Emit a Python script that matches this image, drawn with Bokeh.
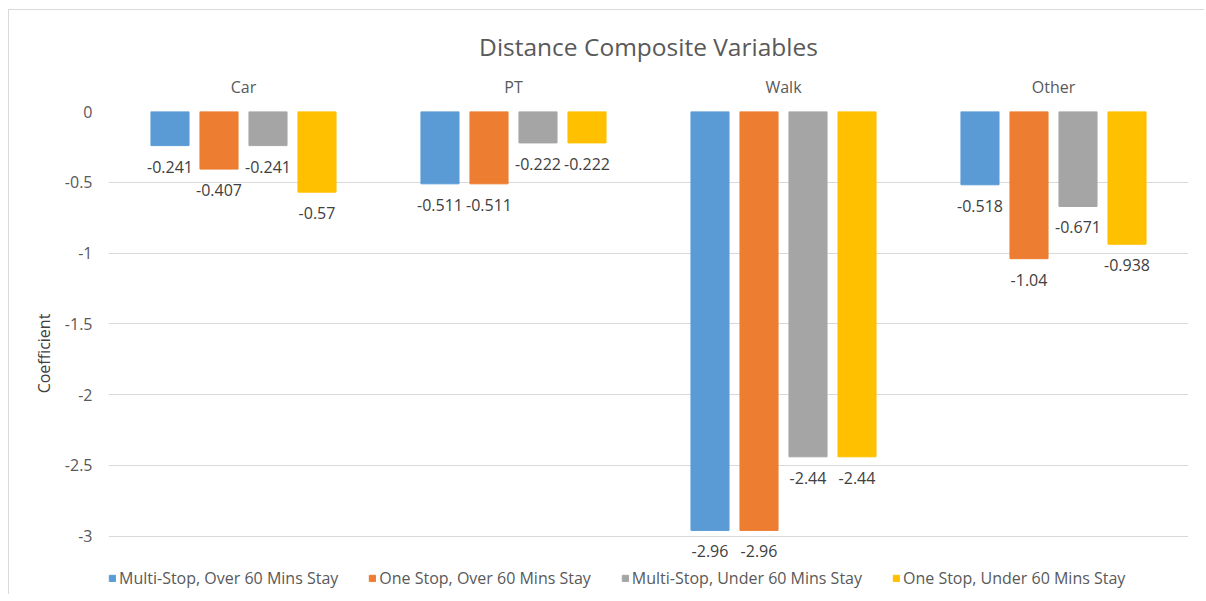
from bokeh.plotting import figure
from bokeh.models import FactorRange, ColumnDataSource, Legend, LegendItem, CategoricalAxis, Range1d
from bokeh.transform import dodge
from bokeh.core.properties import value
from bokeh.embed import file_html
from bokeh.resources import INLINE

categories = ["Car", "PT", "Walk", "Other"]
series_names = ["Multi-Stop, Over 60 Mins Stay", "One Stop, Over 60 Mins Stay",
                "Multi-Stop, Under 60 Mins Stay", "One Stop, Under 60 Mins Stay"]
multi_over = [-0.241, -0.511, -2.96, -0.518]
one_over = [-0.407, -0.511, -2.96, -1.04]
multi_under = [-0.241, -0.222, -2.44, -0.671]
one_under = [-0.57, -0.222, -2.44, -0.938]
colors = ["#5B9BD5", "#ED7D31", "#A5A5A5", "#FFC000"]
y_ticks = [0, -0.5, -1, -1.5, -2, -2.5, -3]

FONT = "Open Sans"
TXT = "#595959"

p = figure(x_range=FactorRange(*categories), y_range=Range1d(-3.42, 0),
           width=1196, height=585, output_backend="svg", toolbar_location=None,
           x_axis_location=None, min_border_left=99, min_border_right=17,
           min_border_bottom=0, min_border_top=101)
p.margin = (9, 0, 0, 8)
p.title.text = "Distance Composite Variables"
p.title.align = "center"
p.title.text_font = FONT
p.title.text_font_size = "24.5px"
p.title.text_font_style = "normal"
p.title.text_color = TXT
p.title.standoff = 20
p.outline_line_color = None
p.background_fill_color = "white"
p.border_fill_color = "white"
p.styles = {"border-left": "1px solid #d9d9d9", "border-top": "1px solid #d9d9d9"}

p.xgrid.grid_line_color = None
p.ygrid.grid_line_color = "#d9d9d9"
p.ygrid.grid_line_width = 1
p.yaxis.ticker = y_ticks
p.yaxis.major_label_overrides = {0: "0", -0.5: "-0.5", -1: "-1", -1.5: "-1.5", -2: "-2", -2.5: "-2.5", -3: "-3"}
p.yaxis.axis_line_color = None
p.yaxis.major_tick_line_color = None
p.yaxis.minor_tick_line_color = None
p.yaxis.major_tick_out = 0
p.yaxis.major_label_text_font = FONT
p.yaxis.major_label_text_font_size = "16px"
p.yaxis.major_label_text_color = TXT
p.yaxis.major_label_standoff = 16
p.yaxis.axis_label = "Coefficient"
p.yaxis.axis_label_text_font = FONT
p.yaxis.axis_label_text_font_size = "16px"
p.yaxis.axis_label_text_font_style = "normal"
p.yaxis.axis_label_text_color = "#404040"
p.yaxis.axis_label_standoff = 7

top_axis = CategoricalAxis()
top_axis.axis_line_color = None
top_axis.major_tick_line_color = None
top_axis.minor_tick_line_color = None
top_axis.major_tick_out = 0
top_axis.major_label_text_font = FONT
top_axis.major_label_text_font_size = "16px"
top_axis.major_label_text_color = TXT
top_axis.major_label_standoff = 14
p.add_layout(top_axis, "above")

source = ColumnDataSource(data=dict(cat=categories,
                                    s0=multi_over, s1=one_over, s2=multi_under, s3=one_under,
                                    l0=[str(v) for v in multi_over], l1=[str(v) for v in one_over],
                                    l2=[str(v) for v in multi_under], l3=[str(v) for v in one_under]))
pitch = 0.1815
bw = 0.141
items = []
for i in range(4):
    off = (i - 1.5) * pitch
    r = p.vbar(x=dodge("cat", off, range=p.x_range), top=0, bottom=f"s{i}", width=bw,
               source=source, fill_color=colors[i], line_color=colors[i])
    p.text(x=dodge("cat", off, range=p.x_range), y=f"s{i}", text=f"l{i}", source=source,
           text_align="center", text_baseline="top", y_offset=15,
           text_font=value(FONT), text_font_size="16px", text_color="#404040")
    items.append(LegendItem(label=series_names[i], renderers=[r]))

legend = Legend(items=items, orientation="horizontal", location=(0, 6),
                glyph_width=8, glyph_height=8, label_text_font=FONT,
                label_text_font_size="16px", label_text_color=TXT,
                spacing=30, label_standoff=3, border_line_color=None,
                background_fill_alpha=0, padding=0, margin=0)
p.add_layout(legend)

open("out.html", "w").write(file_html(p, INLINE))
